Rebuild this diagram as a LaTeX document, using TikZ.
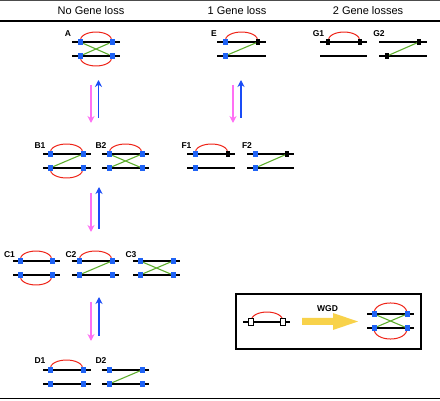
\documentclass[tikz,border=0pt]{standalone}
\usepackage{fontspec}
\setmainfont{Liberation Sans}
\usetikzlibrary{arrows.meta}
\pgfdeclarelayer{bg}
\pgfsetlayers{bg,main}
\definecolor{gblue}{HTML}{1F63F5}
\definecolor{gred}{HTML}{EE2418}
\definecolor{ggreen}{HTML}{5FAE2E}
\definecolor{apink}{HTML}{FF70F4}
\definecolor{ablue}{HTML}{1A4CF6}
\definecolor{wgdyel}{HTML}{F8D24A}
\tikzset{
  sqb/.style={fill=gblue,draw=none,minimum width=5pt,minimum height=6pt,inner sep=0pt},
  sqk/.style={fill=black,draw=none,minimum width=4.5pt,minimum height=6pt,inner sep=0pt},
  sqw/.style={fill=white,draw=black,line width=0.8pt,minimum width=4.5pt,minimum height=6.5pt,inner sep=0pt},
  chrom/.style={draw=black,line width=1.3pt},
  para/.style={draw=gred,line width=1pt},
  orth/.style={draw=ggreen,line width=1.1pt},
  lossarrow/.style={draw=apink,line width=1.4pt,-{Stealth[length=7pt,width=7pt]}},
  gainarrow/.style={draw=ablue,line width=1.4pt,-{Stealth[length=7pt,width=7pt]}},
  lbl/.style={font=\fontsize{8.5}{9}\selectfont\bfseries,inner sep=0pt},
  hdr/.style={font=\fontsize{11}{12}\selectfont,inner sep=0pt},
}
\newcommand\chr[3]{\draw[chrom] (#1,#3) -- (#2,#3);}
\newcommand\sq[4]{\node[#1] (#2) at (#3,#4) {};}
\newcommand\arcup[2]{\draw[para] (#1.center) .. controls +(-1,-13.3) and +(1,-13.3) .. (#2.center);}
\newcommand\arcdn[2]{\draw[para] (#1.center) .. controls +(-1,13.3) and +(1,13.3) .. (#2.center);}
\begin{document}
\begin{tikzpicture}[x=1pt,y=-1pt]
\useasboundingbox (0,0) rectangle (440,401);
% frame lines
\draw[line width=0.6pt,black!70] (0,0.6) -- (440,0.6);
\draw[line width=1.5pt] (0,21) -- (440,21);
\draw[line width=1.5pt] (0,398.5) -- (440,398.5);
% headers
\node[hdr] (h1) at (91,11) {No Gene loss};
\node[hdr] (h2) at (237,11) {1 Gene loss};
\node[hdr] (h3) at (368,11) {2 Gene losses};
% labels
\node[lbl] (lA) at (68,33.5) {A};
\node[lbl] (lE) at (214,33.5) {E};
\node[lbl] (lG1) at (318.5,33.5) {G1};
\node[lbl] (lG2) at (379,33.5) {G2};
\node[lbl] (lB1) at (40,145.5) {B1};
\node[lbl] (lB2) at (101,145.5) {B2};
\node[lbl] (lF1) at (186.5,145.5) {F1};
\node[lbl] (lF2) at (247,145.5) {F2};
\node[lbl] (lC1) at (9.5,254.5) {C1};
\node[lbl] (lC2) at (71,254.5) {C2};
\node[lbl] (lC3) at (131,254.5) {C3};
\node[lbl] (lD1) at (40,361) {D1};
\node[lbl] (lD2) at (101,361) {D2};
% squares
\sq{sqb}{A1}{80}{42}\sq{sqb}{A2}{112}{42}\sq{sqb}{A3}{80}{56}\sq{sqb}{A4}{112}{56}
\sq{sqb}{E1}{225}{42}\sq{sqk}{E2}{258}{42}\sq{sqb}{E3}{225}{56}
\sq{sqk}{Ga1}{328}{42}\sq{sqk}{Ga2}{360}{42}
\sq{sqk}{Gb2}{419}{42}\sq{sqk}{Gb3}{387}{56}
\sq{sqb}{B1a}{50}{154}\sq{sqb}{B1b}{83}{154}\sq{sqb}{B1c}{50}{168}\sq{sqb}{B1d}{83}{168}
\sq{sqb}{B2a}{109}{154}\sq{sqb}{B2b}{142}{154}\sq{sqb}{B2c}{109}{168}\sq{sqb}{B2d}{142}{168}
\sq{sqb}{F1a}{195}{154}\sq{sqk}{F1b}{228}{154}\sq{sqb}{F1c}{195}{168}
\sq{sqb}{F2a}{255}{154}\sq{sqk}{F2b}{287}{154}\sq{sqb}{F2c}{255}{168}
\sq{sqb}{C1a}{20}{261}\sq{sqb}{C1b}{52}{261}\sq{sqb}{C1c}{20}{275}\sq{sqb}{C1d}{52}{275}
\sq{sqb}{C2a}{79}{261}\sq{sqb}{C2b}{112}{261}\sq{sqb}{C2c}{79}{275}\sq{sqb}{C2d}{112}{275}
\sq{sqb}{C3a}{140}{261}\sq{sqb}{C3b}{173}{261}\sq{sqb}{C3c}{140}{275}\sq{sqb}{C3d}{173}{275}
\sq{sqb}{D1a}{50}{370}\sq{sqb}{D1b}{83}{370}\sq{sqb}{D1c}{50}{384}\sq{sqb}{D1d}{83}{384}
\sq{sqb}{D2a}{109}{370}\sq{sqb}{D2b}{142}{370}\sq{sqb}{D2c}{109}{384}\sq{sqb}{D2d}{142}{384}
% legend squares
\sq{sqw}{La}{251}{322}\sq{sqw}{Lb}{283}{322}
\sq{sqb}{R1}{374}{314}\sq{sqb}{R2}{407}{314}\sq{sqb}{R3}{374}{328}\sq{sqb}{R4}{407}{328}
\node[lbl] (wgd) at (327.5,309) {WGD};
% arrow coordinates
\coordinate (p1s) at (91,85);\coordinate (p1e) at (91,123);
\coordinate (b1s) at (98.5,118);\coordinate (b1e) at (98.5,80);
\coordinate (p2s) at (233,85);\coordinate (p2e) at (233,123);
\coordinate (b2s) at (241,118);\coordinate (b2e) at (241,80);
\coordinate (p3s) at (91,193);\coordinate (p3e) at (91,232);
\coordinate (b3s) at (99,229);\coordinate (b3e) at (99,187);
\coordinate (p4s) at (91,302);\coordinate (p4e) at (91,341);
\coordinate (b4s) at (99,336);\coordinate (b4e) at (99,297);
\draw[lossarrow] (p1s) -- (p1e);\draw[gainarrow] (b1s) -- (b1e);
\draw[lossarrow] (p2s) -- (p2e);\draw[gainarrow] (b2s) -- (b2e);
\draw[lossarrow] (p3s) -- (p3e);\draw[gainarrow] (b3s) -- (b3e);
\draw[lossarrow] (p4s) -- (p4e);\draw[gainarrow] (b4s) -- (b4e);
% legend box and WGD arrow
\draw[line width=1.6pt] (236,294) rectangle (421,349);
\fill[wgdyel] (302,318) -- (333,318) -- (333,313) -- (358,321.5) -- (333,330) -- (333,325) -- (302,325) -- cycle;
\begin{pgfonlayer}{bg}
\chr{72}{120}{42}\chr{72}{120}{56}
\chr{217}{266}{42}\chr{217}{266}{56}
\chr{320}{367}{42}\chr{320}{367}{56}
\chr{379}{427}{42}\chr{379}{427}{56}
\chr{43}{91}{154}\chr{43}{91}{168}
\chr{102}{149}{154}\chr{102}{149}{168}
\chr{187}{235}{154}\chr{187}{235}{168}
\chr{247}{294}{154}\chr{247}{294}{168}
\chr{13}{60}{261}\chr{13}{60}{275}
\chr{72}{119}{261}\chr{72}{119}{275}
\chr{133}{180}{261}\chr{133}{180}{275}
\chr{43}{91}{370}\chr{43}{91}{384}
\chr{102}{149}{370}\chr{102}{149}{384}
\chr{243}{290}{322}
\chr{367}{414}{314}\chr{367}{414}{328}
% paralogs
\arcup{A1}{A2}\arcdn{A3}{A4}
\arcup{E1}{E2}
\arcup{Ga1}{Ga2}
\arcup{B1a}{B1b}\arcdn{B1c}{B1d}
\arcup{B2a}{B2b}
\arcup{F1a}{F1b}
\arcup{C1a}{C1b}\arcdn{C1c}{C1d}
\arcup{C2a}{C2b}
\arcup{D1a}{D1b}
\arcup{La}{Lb}
\draw[para] (R1.center) .. controls +(-1,-14.7) and +(1,-14.7) .. (R2.center);
\draw[para] (R3.center) .. controls +(-1,14.7) and +(1,14.7) .. (R4.center);
% orthologs
\draw[orth] (A1) -- (A4);\draw[orth] (A3) -- (A2);
\draw[orth] (E3.center) -- (E2.center);
\draw[orth] (Gb3.center) -- (Gb2.center);
\draw[orth] (B1c.center) -- (B1b.center);
\draw[orth] (B2a.center) -- (B2d.center);\draw[orth] (B2c.center) -- (B2b.center);
\draw[orth] (F2c.center) -- (F2b.center);
\draw[orth] (C2c.center) -- (C2b.center);
\draw[orth] (C3a.center) -- (C3d.center);\draw[orth] (C3c.center) -- (C3b.center);
\draw[orth] (D2c.center) -- (D2b.center);
\draw[orth] (R1.center) -- (R4.center);\draw[orth] (R3.center) -- (R2.center);
\end{pgfonlayer}
\end{tikzpicture}
\end{document}
